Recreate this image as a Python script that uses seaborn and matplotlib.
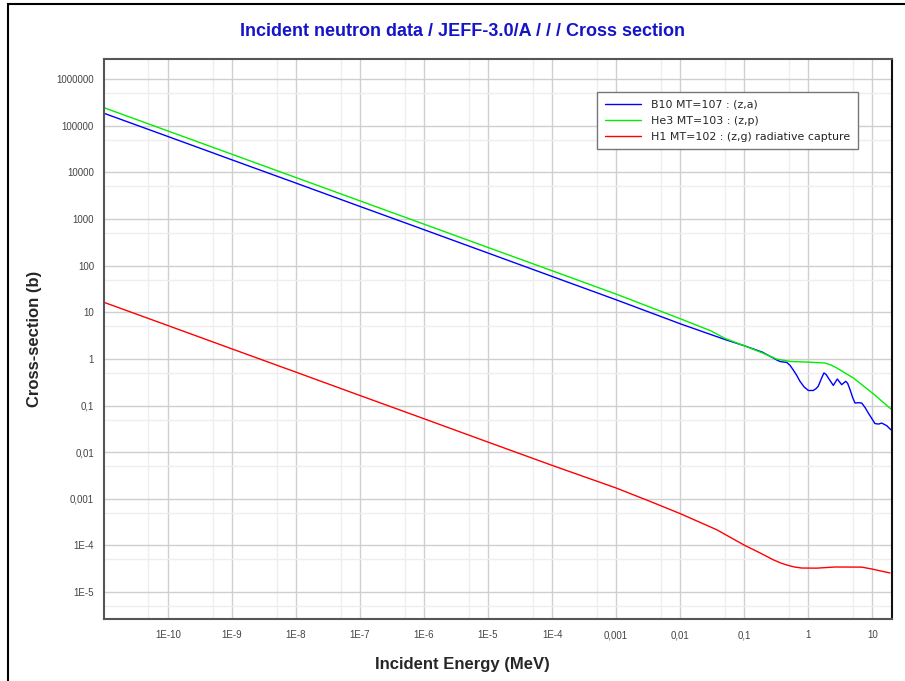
import matplotlib
matplotlib.use("Agg")
import matplotlib.pyplot as plt
import matplotlib.ticker as mticker
from matplotlib.patches import Rectangle
from matplotlib.lines import Line2D
import seaborn as sns
import pandas as pd

# ---------------- data ----------------
b10_energy = [1e-11, 1e-10, 1e-9, 1e-8, 1e-7, 1e-6, 1e-5, 1e-4, 1e-3, 1e-2, 0.05,
              0.097, 0.19, 0.284, 0.33, 0.36, 0.42, 0.46, 0.52, 0.58, 0.66, 0.74,
              0.86, 1.0, 1.19, 1.32, 1.43, 1.6, 1.75, 1.9, 2.05, 2.45, 2.83,
              3.31, 3.83, 4.1, 4.47, 4.9, 5.35, 6.1, 6.81, 7.7, 8.63, 10.96,
              12.5, 13.96, 16.7, 19.5]
b10_xs = [1.86e5, 5.9e4, 1.86e4, 5.9e3, 1.86e3, 590, 186, 58.6, 18.5, 5.66, 2.6,
          1.94, 1.4, 1.04, 0.93, 0.88, 0.85, 0.84, 0.72, 0.58, 0.44, 0.33,
          0.25, 0.21, 0.21, 0.23, 0.26, 0.38, 0.50, 0.46, 0.39, 0.27, 0.37,
          0.28, 0.33, 0.30, 0.22, 0.15, 0.113, 0.115, 0.113, 0.09, 0.069, 0.041,
          0.040, 0.042, 0.037, 0.030]

he3_energy = [1e-11, 1e-10, 1e-9, 1e-8, 1e-7, 1e-6, 1e-5, 1e-4, 1e-3, 1e-2, 0.03,
              0.05, 0.097, 0.19, 0.32, 0.52, 0.94, 1.82, 2.3, 2.77, 5.03, 10.3,
              19.5]
he3_xs = [2.45e5, 7.75e4, 2.45e4, 7.75e3, 2.45e3, 775, 245, 77.6, 24.5, 7.26, 4.0,
          2.75, 1.94, 1.35, 0.99, 0.88, 0.855, 0.815, 0.73, 0.64, 0.39, 0.179,
          0.084]

h1_energy = [1e-11, 1e-10, 1e-9, 1e-8, 1e-7, 1e-6, 1e-5, 1e-4, 1e-3, 3.37e-3,
             1e-2, 3.7e-2, 0.103, 0.176, 0.284, 0.37, 0.459, 0.6, 0.787, 1.35,
             2.61, 6.81, 9.75, 18.8]
h1_xs = [16.4, 5.2, 1.64, 0.52, 0.164, 0.052, 0.0164, 0.0052, 1.7e-3, 8.8e-4,
         4.8e-4, 2.17e-4, 9.9e-5, 6.9e-5, 4.9e-5, 4.2e-5, 3.8e-5, 3.45e-5,
         3.27e-5, 3.25e-5, 3.44e-5, 3.42e-5, 3.12e-5, 2.56e-5]

series_labels = ["B10 MT=107 : (z,a)", "He3 MT=103 : (z,p)",
                 "H1 MT=102 : (z,g) radiative capture"]
series_colors = ["#0000ff", "#00ee00", "#ff0000"]

x_tick_values = [1e-10, 1e-9, 1e-8, 1e-7, 1e-6, 1e-5, 1e-4, 1e-3, 1e-2, 1e-1, 1, 10]
x_tick_labels = ["1E-10", "1E-9", "1E-8", "1E-7", "1E-6", "1E-5", "1E-4",
                 "0,001", "0,01", "0,1", "1", "10"]
y_tick_values = [1e-5, 1e-4, 1e-3, 1e-2, 1e-1, 1, 10, 100, 1000, 1e4, 1e5, 1e6]
y_tick_labels = ["1E-5", "1E-4", "0,001", "0,01", "0,1", "1", "10", "100",
                 "1000", "10000", "100000", "1000000"]

title = "Incident neutron data / JEFF-3.0/A / / / Cross section"
x_label = "Incident Energy (MeV)"
y_label = "Cross-section (b)"

# ---------------- build long table ----------------
frames = []
for e, s, lab in [(b10_energy, b10_xs, series_labels[0]),
                  (he3_energy, he3_xs, series_labels[1]),
                  (h1_energy, h1_xs, series_labels[2])]:
    frames.append(pd.DataFrame({"energy": e, "xs": s, "series": lab}))
df = pd.concat(frames, ignore_index=True)

sns.set_style("white")
plt.rcParams["font.family"] = ["Liberation Sans", "DejaVu Sans"]

fig = plt.figure(figsize=(9.05, 6.81), dpi=100)
ax = fig.add_axes([103.7 / 905, 1 - 619.3 / 681, 788 / 905, 560.3 / 681])

sns.lineplot(data=df, x="energy", y="xs", hue="series", hue_order=series_labels,
             palette=series_colors, estimator=None, sort=False, linewidth=1.0,
             legend=False, ax=ax)

ax.set_xscale("log")
ax.set_yscale("log")
ax.set_xlim(1e-11, 20)
ax.set_ylim(2.6e-6, 2.7e6)

ax.xaxis.set_major_locator(mticker.FixedLocator(x_tick_values))
ax.xaxis.set_major_formatter(mticker.FixedFormatter(x_tick_labels))
ax.yaxis.set_major_locator(mticker.FixedLocator(y_tick_values))
ax.yaxis.set_major_formatter(mticker.FixedFormatter(y_tick_labels))
ax.xaxis.set_minor_locator(mticker.LogLocator(base=10, subs=[5], numticks=30))
ax.yaxis.set_minor_locator(mticker.LogLocator(base=10, subs=[5], numticks=30))
ax.xaxis.set_minor_formatter(mticker.NullFormatter())
ax.yaxis.set_minor_formatter(mticker.NullFormatter())

ax.tick_params(which="major", direction="inout", length=10, width=1.2,
               color="#222222", labelsize=7, labelcolor="#444444", pad=2)
ax.tick_params(which="minor", direction="in", length=5, width=1.2, color="#444444")
ax.tick_params(axis="x", which="major", pad=3)

ax.grid(which="major", color="#cfcfcf", linewidth=1.0)
ax.grid(which="minor", color="#eeeeee", linewidth=1.0)
ax.set_axisbelow(True)

for name, sp in ax.spines.items():
    sp.set_visible(True)
    sp.set_linewidth(1.5)
    sp.set_color("#555555")
ax.spines["right"].set_color("#111111")

ax.set_xlabel(x_label, fontsize=12, fontweight="bold")
ax.xaxis.set_label_coords((462 - 103.7) / 788, -(664 - 619.3) / 560.3)
ax.xaxis.label.set_va("center")
ax.set_ylabel(y_label, fontsize=12, fontweight="bold", labelpad=10)

fig.text(462 / 905, 1 - 32 / 681, title, ha="center", va="center",
         fontsize=13, fontweight="bold", color="#1414c8")

handles = [Line2D([0], [0], color=c, lw=1.0) for c in series_colors]
leg = ax.legend(handles, series_labels, loc="upper right",
                bbox_to_anchor=((858 - 103.7) / 788, (619.3 - 92) / 560.3),
                fancybox=False, edgecolor="#777777", framealpha=1,
                prop={"family": "DejaVu Sans", "size": 7.9},
                handlelength=3.3, handletextpad=0.9, labelspacing=0.55,
                borderpad=0.7, borderaxespad=0)
leg.get_frame().set_linewidth(1.0)

fig.patches.append(Rectangle((8 / 905, -0.1), 1.2, 1.1 - 4 / 681,
                             transform=fig.transFigure, fill=False,
                             edgecolor="black", linewidth=1.5))

fig.savefig("out.png", dpi=100)
